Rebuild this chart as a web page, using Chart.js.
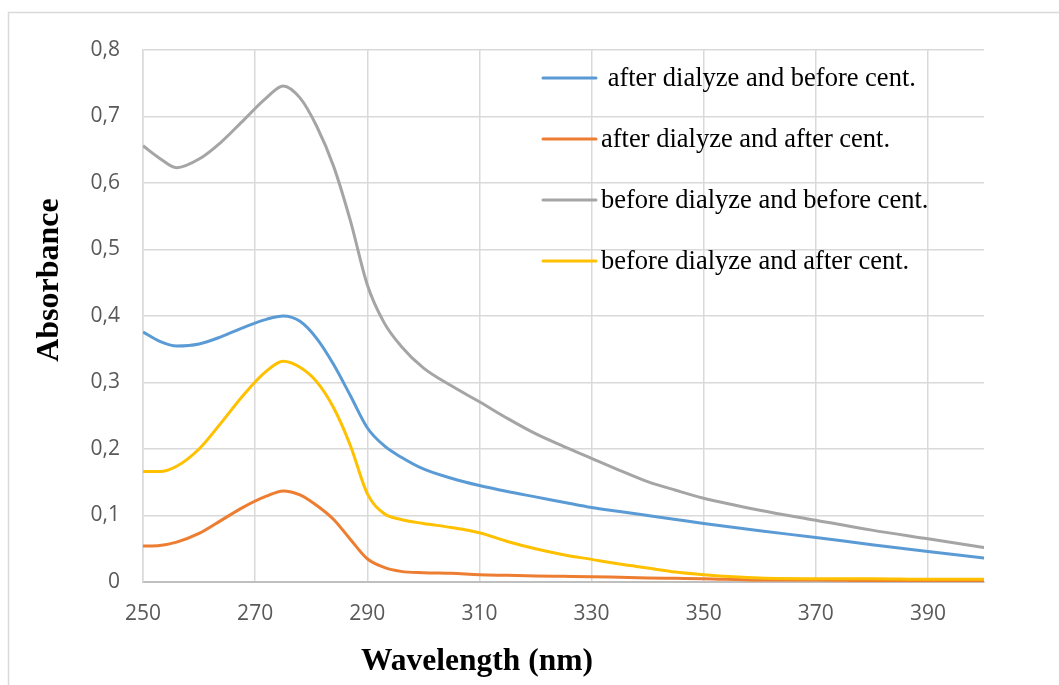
<!DOCTYPE html>
<html>
<head>
<meta charset="utf-8">
<script src="https://cdn.jsdelivr.net/npm/chart.js@4/dist/chart.umd.min.js"></script>
<style>
  html, body { margin: 0; padding: 0; background: #ffffff; }
  #wrap { width: 1059px; height: 685px; position: relative; }
</style>
</head>
<body>
<div id="wrap"><canvas id="c" width="1059" height="685"></canvas></div>
<script>
// ---- data ----
const wavelengths = [250,253,256,260,264,268,272,275,278,281,284,287,290,293,296,300,305,310,315,320,325,330,335,340,345,350,360,370,380,390,400];

const afterDialyzeBeforeCent = [0.376,0.362,0.355,0.358,0.369,0.383,0.395,0.400,0.392,0.366,0.327,0.280,0.232,0.205,0.188,0.170,0.156,0.145,0.136,0.128,0.120,0.112,0.106,0.100,0.094,0.088,0.077,0.067,0.056,0.046,0.036];
const afterDialyzeAfterCent  = [0.054,0.055,0.060,0.073,0.093,0.113,0.129,0.137,0.131,0.115,0.094,0.064,0.035,0.022,0.016,0.014,0.013,0.011,0.010,0.009,0.0085,0.008,0.007,0.006,0.0055,0.005,0.003,0.003,0.002,0.002,0.002];
const beforeDialyzeBeforeCent = [0.656,0.637,0.623,0.636,0.662,0.695,0.728,0.746,0.728,0.685,0.625,0.543,0.447,0.390,0.355,0.322,0.295,0.271,0.246,0.223,0.204,0.186,0.168,0.151,0.138,0.126,0.108,0.093,0.078,0.065,0.052];
const beforeDialyzeAfterCent  = [0.166,0.166,0.174,0.200,0.240,0.282,0.317,0.332,0.323,0.301,0.262,0.205,0.133,0.103,0.094,0.088,0.082,0.074,0.061,0.050,0.041,0.034,0.027,0.021,0.015,0.011,0.006,0.005,0.005,0.004,0.004];

const seriesNames = [' after dialyze and before cent.', 'after dialyze and after cent.', 'before dialyze and before cent.', 'before dialyze and after cent.'];
const seriesColors = ['#5b9bd5', '#ed7d31', '#a5a5a5', '#ffc000'];

const xTickValues = [250,270,290,310,330,350,370,390];
const yTickValues = [0,0.1,0.2,0.3,0.4,0.5,0.6,0.7,0.8];
const yTickLabels = ['0','0,1','0,2','0,3','0,4','0,5','0,6','0,7','0,8'];

const xTitle = 'Wavelength (nm)';
const yTitle = 'Absorbance';

// ---- build datasets ----
const allSeries = [afterDialyzeBeforeCent, afterDialyzeAfterCent, beforeDialyzeBeforeCent, beforeDialyzeAfterCent];
const datasets = allSeries.map((vals, i) => ({
  label: seriesNames[i],
  data: wavelengths.map((w, k) => ({x: w, y: vals[k]})),
  borderColor: seriesColors[i],
  backgroundColor: seriesColors[i],
  borderWidth: 3,
  pointRadius: 0,
  cubicInterpolationMode: 'monotone',
  fill: false
}));
const drawOrder = [4,3,2,1];
datasets.forEach((d, i) => d.order = drawOrder[i]);

const decorPlugin = {
  id: 'decor',
  beforeDraw(chart) {
    const ctx = chart.ctx;
    ctx.save();
    ctx.fillStyle = '#ffffff';
    ctx.fillRect(0, 0, chart.width, chart.height);
    ctx.strokeStyle = '#d9d9d9';
    ctx.lineWidth = 1.5;
    ctx.strokeRect(8.5, 12.5, 1200, 800);
    ctx.restore();
  },
  afterDraw(chart) {
    const ctx = chart.ctx;
    ctx.save();
    ctx.fillStyle = '#000000';
    ctx.font = 'bold 31.5px "Liberation Serif", "Times New Roman", serif';
    ctx.textAlign = 'center';
    ctx.textBaseline = 'alphabetic';
    ctx.fillText(xTitle, 477, 670);
    ctx.font = 'bold 32px "Liberation Serif", "Times New Roman", serif';
    ctx.translate(58, 280);
    ctx.rotate(-Math.PI / 2);
    ctx.fillText(yTitle, 0, 0);
    ctx.restore();

    ctx.save();
    const legendY = [78, 139, 200, 261];
    ctx.font = '26.5px "Liberation Serif", "Times New Roman", serif';
    ctx.textAlign = 'left';
    ctx.textBaseline = 'middle';
    chart.data.datasets.forEach((d, i) => {
      const y = legendY[i];
      ctx.strokeStyle = d.borderColor;
      ctx.lineWidth = 3;
      ctx.lineCap = 'round';
      ctx.beginPath();
      ctx.moveTo(543, y);
      ctx.lineTo(596, y);
      ctx.stroke();
      ctx.fillStyle = '#000000';
      ctx.fillText(d.label, 601, y + 1);
    });
    ctx.restore();
  }
};

new Chart(document.getElementById('c'), {
  type: 'line',
  data: { datasets },
  plugins: [decorPlugin],
  options: {
    responsive: false,
    animation: false,
    layout: { padding: { left: 0, top: 50, right: 75, bottom: 0 } },
    plugins: {
      legend: { display: false },
      tooltip: { enabled: false }
    },
    scales: {
      x: {
        type: 'linear',
        min: 250,
        max: 400,
        afterBuildTicks: (s) => { s.ticks = xTickValues.map(v => ({value: v})); },
        afterFit: (s) => { s.height = 103; },
        grid: { color: '#d9d9d9', lineWidth: 1.5, drawTicks: false },
        border: { color: '#bfbfbf', width: 2 },
        ticks: {
          color: '#595959',
          font: { family: '"Open Sans", sans-serif', size: 21 },
          padding: 19,
          maxRotation: 0,
          autoSkip: false,
          callback: (v) => String(v)
        }
      },
      y: {
        type: 'linear',
        min: 0,
        max: 0.8,
        afterBuildTicks: (s) => { s.ticks = yTickValues.map(v => ({value: v})); },
        afterFit: (s) => { s.width = 143; },
        grid: { color: '#d9d9d9', lineWidth: 1.5, drawTicks: false },
        border: { color: '#d9d9d9', width: 1.5 },
        ticks: {
          color: '#595959',
          font: { family: '"Open Sans", sans-serif', size: 21 },
          padding: 23,
          autoSkip: false,
          callback: (v) => {
            const idx = yTickValues.findIndex(t => Math.abs(t - v) < 1e-9);
            return idx >= 0 ? yTickLabels[idx] : '';
          }
        }
      }
    }
  }
});
</script>
</body>
</html>
